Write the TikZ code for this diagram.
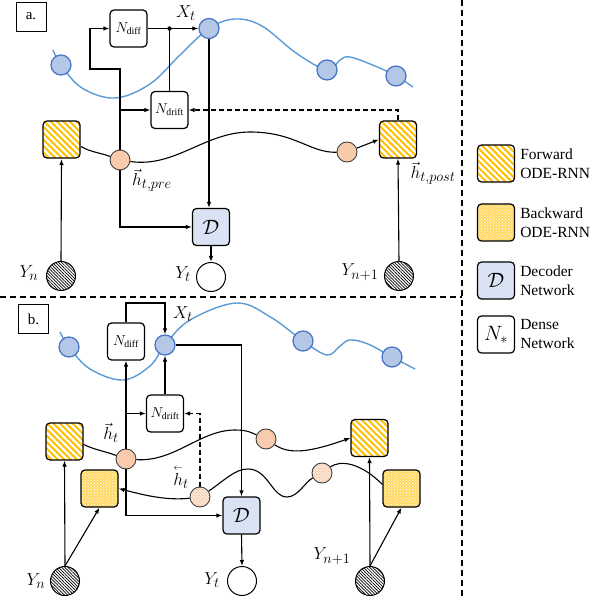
\documentclass[tikz,border=0pt]{standalone}
\usepackage{amsmath}
\usepackage{fontspec}
\setmainfont{Liberation Serif}
\usetikzlibrary{arrows.meta,patterns,patterns.meta,positioning}

\definecolor{stripe}{HTML}{FFC000}
\definecolor{bwdfill}{HTML}{FFD966}
\definecolor{obsfill}{HTML}{B4C7E7}
\definecolor{obsline}{HTML}{4472C4}
\definecolor{traj}{HTML}{5B9BD5}
\definecolor{hidfill}{HTML}{F8CBAD}
\definecolor{hidlight}{HTML}{FBE5D6}
\definecolor{decfill}{HTML}{DAE3F3}

\tikzset{
  box/.style={draw, rounded corners=4pt, line width=1.2pt, minimum width=37pt, minimum height=37pt, inner sep=0pt},
  fwdbox/.style={box, preaction={fill=white}, pattern={Lines[angle=-45,distance=4.5pt,line width=2pt]}, pattern color=stripe},
  bwdbox/.style={box, preaction={fill=bwdfill}, pattern=crosshatch dots, pattern color=white},
  decbox/.style={box, fill=decfill, font=\fontsize{21}{21}\selectfont},
  densebox/.style={box, fill=white, font=\fontsize{14}{14}\selectfont},
  obs/.style={circle, fill=obsfill, draw=obsline, line width=1.2pt, minimum size=20pt, inner sep=0pt},
  hid/.style={circle, fill=hidfill, draw=black!75, line width=0.9pt, minimum size=20pt, inner sep=0pt},
  hidb/.style={circle, draw=black!75, line width=0.9pt, minimum size=20pt, inner sep=0pt, preaction={fill=hidlight}, pattern=crosshatch dots, pattern color=hidfill!80!orange},
  yin/.style={circle, draw, line width=1pt, minimum size=29pt, inner sep=0pt, preaction={fill=white}, pattern={Lines[angle=-45,distance=2.2pt,line width=0.7pt]}},
  yout/.style={circle, draw, line width=1pt, minimum size=29pt, inner sep=0pt, fill=white},
  conn/.style={-{Latex[length=6pt,width=4.5pt]}, line width=1.1pt},
  wire/.style={line width=1.1pt},
  feedback/.style={conn, dash pattern=on 5pt off 3pt},
  sep/.style={line width=1.2pt, dash pattern=on 6pt off 4pt},
  trajline/.style={traj, line width=1.4pt},
  lbl/.style={inner sep=0pt, font=\fontsize{19}{19}\selectfont},
  tag/.style={draw, line width=0.9pt, minimum width=30pt, minimum height=29pt, inner sep=0pt, font=\fontsize{15}{15}\selectfont},
  legtext/.style={anchor=west, align=left, inner sep=0pt, font=\fontsize{15.5}{19}\selectfont}
}

\newcommand{\hback}{\overset{\scriptscriptstyle\leftarrow}{h}}

\begin{document}
\begin{tikzpicture}[x=1pt,y=1pt]
    \useasboundingbox (0,0) rectangle (606,-599);

    % Separadores
    \draw[sep] (462,0) -- (462,-599);
    \draw[sep] (0,-297) -- (462,-297);

    %%%%%%%%%% a. %%%%%%%%%%
    \node[tag] (tagA) at (31,-16.5) {a.};

    % Trayectoria observada
    \draw[trajline] plot[smooth, tension=0.6] coordinates {(53,-50) (61,-65) (82,-88) (115,-98) (150,-84) (180,-55) (209,-28.5) (235,-19) (262,-26) (296,-53) (327,-70) (340,-60) (350,-57) (375,-66) (396,-76) (413,-87)};
    \node[obs] (o1) at (61,-65) {};
    \node[obs] (xt) at (209,-28.5) {};
    \node[obs] (o3) at (327,-70) {};
    \node[obs] (o4) at (396,-76) {};
    \node[lbl] (lblXt) at (186,-13) {$X_t$};

    % Redes densas
    \node[densebox] (ndiff) at (128.5,-28.5) {$N_{\mathrm{diff}}$};
    \node[densebox] (ndrift) at (169.5,-110) {$N_{\mathrm{drift}}$};

    % ODE-RNN y estados ocultos
    \node[fwdbox] (fwdA) at (61.5,-139.5) {};
    \node[fwdbox] (fwdB) at (398,-139.5) {};
    \node[hid] (hpre) at (120,-160) {};
    \node[hid] (hpost) at (347,-152) {};
    \node[decbox] (dec) at (211,-227) {$\mathcal{D}$};
    \node[yin] (yn) at (61,-276) {};
    \node[yin] (yn1) at (399,-276) {};
    \node[yout] (yt) at (211,-277) {};

    \node[lbl] (lblHpre) at (152,-180) {$\vec{h}_{t,pre}$};
    \node[lbl] (lblHpost) at (433,-173) {$\vec{h}_{t,post}$};
    \node[lbl] (lblYn) at (29,-273) {$Y_n$};
    \node[lbl] (lblYt) at (183,-274) {$Y_t$};
    \node[lbl] (lblYn1) at (360,-272) {$Y_{n+1}$};

    % Conexiones
    \coordinate (kink) at (90,-69);
    \coordinate (junc) at (ndrift.north |- xt.west);
    \draw[conn] (ndiff.east) -- (xt.west);
    \draw[wire] (ndrift.north) -- (junc);
    \fill (junc) circle (2.2pt);
    \draw[conn] (hpre.north) |- (kink) |- (ndiff.west);
    \draw[conn] (hpre.north |- ndrift.west) -- (ndrift.west);
    \draw[conn] (xt.south) -- (xt.south |- dec.north);
    \draw[conn] (hpre.south) |- (dec.west);
    \draw[conn] (dec.south) -- (yt.north);
    \draw[conn] (yn.north) -- (fwdA.south);
    \draw[conn] (yn1.north) -- (fwdB.south);
    \draw[feedback] (fwdB.north) |- (ndrift.east);

    \draw[wire] ([yshift=-7pt]fwdA.east) to[out=-30,in=160] (hpre);
    \draw[wire] (hpre) .. controls (175,-168) and (205,-132) .. (250,-132)
                       .. controls (295,-132) and (310,-153) .. (hpost);
    \draw[conn] (hpost) -- (fwdB.west);

    %%%%%%%%%% b. %%%%%%%%%%
    \node[tag] (tagB) at (33.5,-319) {b.};

    % Trayectoria observada
    \draw[trajline] plot[smooth, tension=0.6] coordinates {(60,-332) (69,-347) (90,-369) (123,-380) (150,-366) (165,-345) (190,-320) (237,-303) (272,-318) (303,-341) (327,-355) (340,-346) (350,-340) (368,-344) (392,-357) (415,-369)};
    \node[obs] (o1b) at (69,-347) {};
    \node[obs] (xtB) at (165,-345) {};
    \node[obs] (o3b) at (303,-341) {};
    \node[obs] (o4b) at (392,-357) {};
    \node[lbl] (lblXtB) at (183,-314) {$X_t$};

    % Redes densas
    \node[densebox] (ndiffB) at (126,-341.5) {$N_{\mathrm{diff}}$};
    \node[densebox] (ndriftB) at (165,-413.5) {$N_{\mathrm{drift}}$};

    % ODE-RNN hacia adelante y hacia atras
    \node[fwdbox] (fwdC) at (64.5,-441.5) {};
    \node[fwdbox] (fwdD) at (369.5,-438) {};
    \node[bwdbox] (bwdC) at (99.5,-488.5) {};
    \node[bwdbox] (bwdD) at (401.5,-488.5) {};
    \node[hid] (hfB) at (126,-459) {};
    \node[hid] (hf2) at (266,-439) {};
    \node[hidb] (hbA) at (200,-497) {};
    \node[hidb] (hb2) at (322,-473) {};
    \node[decbox] (decB) at (241.5,-515.5) {$\mathcal{D}$};
    \node[yin] (ynB) at (65,-581) {};
    \node[yin] (yn1B) at (370,-581) {};
    \node[yout] (ytB) at (242,-581) {};

    \node[lbl] (lblHf) at (111,-433) {$\vec{h}_t$};
    \node[lbl] (lblHb) at (181,-477) {$\hback_t$};
    \node[lbl] (lblYnB) at (36,-581) {$Y_n$};
    \node[lbl] (lblYtB) at (212,-580) {$Y_t$};
    \node[lbl] (lblYn1B) at (332,-556) {$Y_{n+1}$};

    % Conexiones
    \coordinate (topbend) at (145,-303);
    \draw[conn] (ndiffB.north) |- (topbend) -| (xtB.north);
    \draw[conn] (xtB.east) -| (decB.north);
    \draw[conn] (ndriftB.north) -- (xtB.south);
    \draw[conn] (hfB.north) -- (ndiffB.south);
    \draw[conn] (hfB.north |- ndriftB.west) -- (ndriftB.west);
    \draw[feedback] (hbA.north) |- (ndriftB.east);
    \draw[conn] (hfB.south) |- (decB.west);
    \draw[conn] (decB.south) -- (ytB.north);
    \draw[conn] (ynB.north) -- (fwdC.south);
    \draw[conn] (ynB.north) -- (bwdC.south);
    \draw[conn] (yn1B.north) -- (fwdD.south);
    \draw[conn] (yn1B.north) -- (bwdD.south);

    \draw[wire] ([yshift=-3pt]fwdC.east) to[out=-25,in=160] (hfB);
    \draw[wire] (hfB) .. controls (175,-462) and (200,-430) .. (235,-430)
                      .. controls (248,-430) and (252,-433) .. (hf2);
    \draw[conn] (hf2) .. controls (290,-455) and (310,-452) .. (fwdD.west);

    \draw[wire] ([yshift=4pt]bwdD.west) .. controls (360,-462) and (340,-460) .. (hb2);
    \draw[wire] (hb2) .. controls (305,-482) and (298,-497) .. (287,-497)
                      .. controls (272,-497) and (268,-469) .. (248,-469)
                      .. controls (235,-469) and (225,-480) .. (hbA);
    \draw[conn] (hbA) .. controls (165,-501) and (140,-494) .. (bwdC.east);

    %%%%%%%%%% Leyenda %%%%%%%%%%
    \node[fwdbox] (legF) at (496,-163.5) {};
    \node[bwdbox] (legB) at (496,-222.5) {};
    \node[decbox] (legD) at (496,-280.5) {$\mathcal{D}$};
    \node[densebox, font=\fontsize{20}{20}\selectfont] (legN) at (496,-334.5) {$N_*$};
    \node[legtext, right=5pt of legF] (legFt) {Forward\\ODE-RNN};
    \node[legtext, right=5pt of legB] (legBt) {Backward\\ODE-RNN};
    \node[legtext, right=5pt of legD] (legDt) {Decoder\\Network};
    \node[legtext, right=5pt of legN] (legNt) {Dense\\Network};
\end{tikzpicture}
\end{document}
